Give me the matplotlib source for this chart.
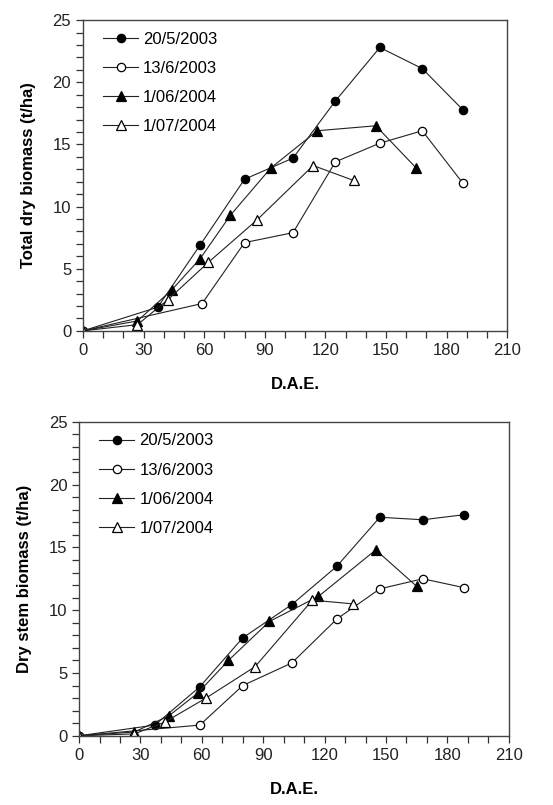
import numpy as np
import matplotlib.pyplot as plt
from matplotlib.ticker import MultipleLocator

plt.rcParams['font.family'] = ['Liberation Sans', 'DejaVu Sans']

labels = ["20/5/2003", "13/6/2003", "1/06/2004", "1/07/2004"]

## total dry biomass
dae_tot = [
    [0, 37, 58, 80, 104, 125, 147, 168, 188],
    [0, 59, 80, 104, 125, 147, 168, 188],
    [0, 27, 44, 58, 73, 93, 116, 145, 165],
    [0, 27, 42, 62, 86, 114, 134],
]
tot = [
    [0, 1.9, 6.9, 12.2, 13.9, 18.5, 22.8, 21.1, 17.8],
    [0, 2.2, 7.1, 7.9, 13.6, 15.1, 16.1, 11.9],
    [0, 0.8, 3.3, 5.8, 9.3, 13.1, 16.1, 16.5, 13.1],
    [0, 0.5, 2.5, 5.5, 8.9, 13.3, 12.1],
]

## dry stem biomass
dae_stem = [
    [0, 37, 59, 80, 104, 126, 147, 168, 188],
    [0, 59, 80, 104, 126, 147, 168, 188],
    [0, 27, 44, 58, 73, 93, 117, 145, 165],
    [0, 27, 42, 62, 86, 114, 134],
]
stem = [
    [0, 0.85, 3.9, 7.8, 10.45, 13.5, 17.4, 17.2, 17.6],
    [0, 0.85, 4.0, 5.8, 9.3, 11.7, 12.5, 11.8],
    [0, 0.3, 1.6, 3.4, 6.0, 9.1, 11.1, 14.8, 11.9],
    [0, 0.15, 1.1, 3.0, 5.5, 10.8, 10.5],
]

markers = ["o", "o", "^", "^"]
faces = ["black", "white", "black", "white"]
msizes = [6, 6, 7.5, 7.5]

fig = plt.figure(figsize=(5.53, 8.05), dpi=100)
ax1 = fig.add_axes([0.150, 0.589, 0.767, 0.386])
ax2 = fig.add_axes([0.143, 0.086, 0.777, 0.390])


def dibujar(ax, xs, ys, ylabel):
    for x, y, lab, m, fc, ms in zip(xs, ys, labels, markers, faces, msizes):
        ax.plot(x, y, color="#222222", lw=0.8, marker=m, ms=ms,
                mfc=fc, mec="black", mew=0.9, label=lab)
    ax.set_xlim(0, 210)
    ax.set_ylim(0, 25)
    ax.xaxis.set_major_locator(MultipleLocator(30))
    ax.xaxis.set_minor_locator(MultipleLocator(10))
    ax.yaxis.set_major_locator(MultipleLocator(5))
    ax.yaxis.set_minor_locator(MultipleLocator(1))
    ax.tick_params(which="both", direction="out", length=5, width=0.9,
                   color="#333333", labelsize=12, labelcolor="#222222")
    for s in ax.spines.values():
        s.set_color("#444444")
        s.set_linewidth(1.0)
    ax.set_xlabel("D.A.E.", fontsize=12, fontweight="bold", labelpad=14)
    ax.set_ylabel(ylabel, fontsize=12, fontweight="bold", labelpad=12)
    ax.legend(loc="upper left", frameon=False, fontsize=12,
              handlelength=2.1, handletextpad=0.3, labelspacing=0.85,
              borderaxespad=0.3, bbox_to_anchor=(0.02, 1.0))


dibujar(ax1, dae_tot, tot, "Total dry biomass (t/ha)")
dibujar(ax2, dae_stem, stem, "Dry stem biomass (t/ha)")

plt.savefig("out.png", dpi=100)
